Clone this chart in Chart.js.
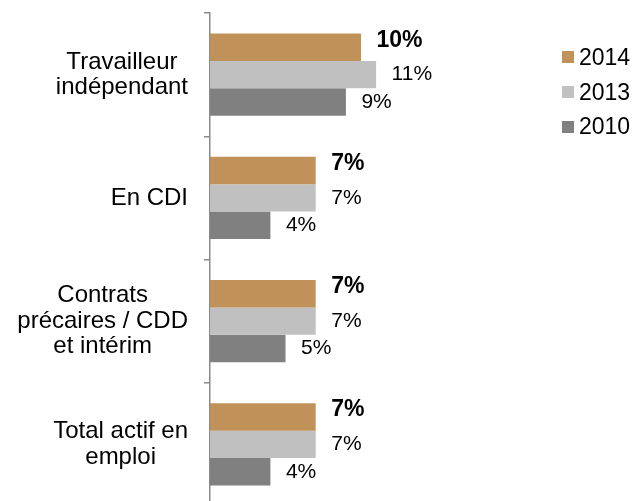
<!DOCTYPE html>
<html>
<head>
<meta charset="utf-8">
<script src="https://cdn.jsdelivr.net/npm/chart.js@4/dist/chart.umd.min.js"></script>
<style>
  html, body { margin: 0; padding: 0; background: #fff; overflow: hidden; }
  #wrap { position: relative; width: 636px; height: 501px; overflow: hidden; }
  #legende { position: absolute; left: 562px; top: 40px; font-family: "Liberation Sans", Arial, sans-serif; font-size: 23px; color: #000; }
  .item { height: 34.7px; display: flex; align-items: center; }
  .carre { width: 12px; height: 12px; margin-right: 5px; }
</style>
</head>
<body>
<div id="wrap">
  <canvas id="graphique" width="636" height="520"></canvas>
  <div id="legende"></div>
</div>
<script>
// Données du graphique
const categories = [
    ['Travailleur', 'indépendant'],
    ['En CDI'],
    ['Contrats', 'précaires / CDD', 'et intérim'],
    ['Total actif en', 'emploi']
];
const annees = ['2014', '2013', '2010'];
const valeurs2014 = [10, 7, 7, 7];
const valeurs2013 = [11, 7, 7, 7];
const valeurs2010 = [9, 4, 5, 4];

const couleurs = ['#C0925A', '#C0C0C0', '#808080'];
const police = '"Liberation Sans", Arial, sans-serif';

// Libellés des catégories : bloc aligné à droite, lignes centrées
const libellesCategories = {
    id: 'libellesCategories',
    afterDraw(chart) {
        const ctx = chart.ctx;
        const y = chart.scales.y;
        const droite = chart.chartArea.left - 22;
        const interligne = 25.5;
        ctx.save();
        ctx.font = '24px ' + police;
        ctx.fillStyle = '#000';
        ctx.textAlign = 'center';
        ctx.textBaseline = 'middle';
        categories.forEach((lignes, i) => {
            const largeur = Math.max(...lignes.map(l => ctx.measureText(l).width));
            const cx = droite - largeur / 2;
            const cy = y.getPixelForValue(i);
            const debut = cy - (lignes.length - 1) * interligne / 2;
            lignes.forEach((l, k) => ctx.fillText(l, cx, debut + k * interligne));
        });
        ctx.restore();
    }
};

// Étiquettes de valeurs au bout des barres
const etiquettes = {
    id: 'etiquettes',
    afterDatasetsDraw(chart) {
        const ctx = chart.ctx;
        ctx.save();
        ctx.fillStyle = '#000';
        ctx.textAlign = 'left';
        ctx.textBaseline = 'middle';
        chart.data.datasets.forEach((ds, d) => {
            const meta = chart.getDatasetMeta(d);
            ctx.font = d === 0 ? 'bold 23px ' + police : '21px ' + police;
            const decalage = d === 0 ? -7 : 0;
            meta.data.forEach((barre, i) => {
                ctx.fillText(ds.data[i] + '%', barre.x + 15.5, barre.y + decalage);
            });
        });
        ctx.restore();
    }
};

const canvas = document.getElementById('graphique');
if (canvas) {
    const ctx = canvas.getContext('2d');
    new Chart(ctx, {
        type: 'bar',
        data: {
            labels: categories,
            datasets: [
                { label: annees[0], data: valeurs2014, backgroundColor: couleurs[0] },
                { label: annees[1], data: valeurs2013, backgroundColor: couleurs[1] },
                { label: annees[2], data: valeurs2010, backgroundColor: couleurs[2] }
            ].map(ds => Object.assign(ds, { barPercentage: 1, categoryPercentage: 0.667 }))
        },
        options: {
            indexAxis: 'y',
            responsive: false,
            animation: false,
            devicePixelRatio: 1,
            layout: { padding: { left: 0, top: 13, right: 124, bottom: 14 } },
            scales: {
                x: { display: false, min: 0, max: 20 },
                y: {
                    grid: { drawOnChartArea: false, drawTicks: true, tickLength: 6, color: '#8a8a8a', lineWidth: 1.5 },
                    border: { color: '#8a8a8a', width: 1.5 },
                    ticks: { display: false },
                    afterFit: (s) => { s.width = 210; }
                }
            },
            plugins: {
                legend: { display: false },
                tooltip: { enabled: false }
            }
        },
        plugins: [libellesCategories, etiquettes]
    });
}

// Légende HTML
const legende = document.getElementById('legende');
annees.forEach((a, i) => {
    const item = document.createElement('div');
    item.className = 'item';
    item.innerHTML = '<span class="carre" style="background:' + couleurs[i] + '"></span><span>' + a + '</span>';
    legende.appendChild(item);
});
</script>
</body>
</html>
